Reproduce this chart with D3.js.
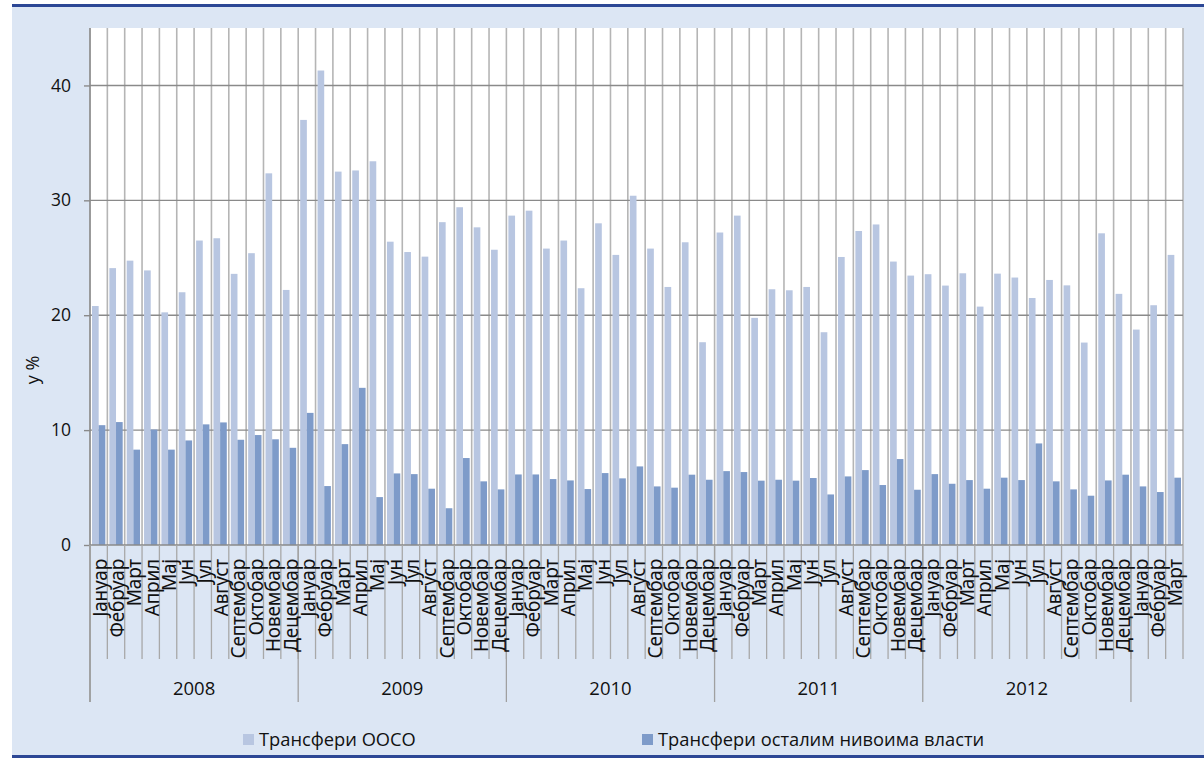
<!DOCTYPE html>
<html><head><meta charset="utf-8">
<script src="https://cdn.jsdelivr.net/npm/d3@7"></script>
<style>
html,body{margin:0;padding:0;background:#fff;}
svg{display:block;}
text{font-family:"Open Sans","Noto Sans",sans-serif;fill:#111;}
</style></head>
<body>
<svg id="chart" width="1204" height="758"></svg>
<script>
const monthNames = ["Јануар","Фебруар","Март","Април","Мај","Јун","Јул","Август","Септембар","Октобар","Новембар","Децембар"];
const years = ["2008","2009","2010","2011","2012",""];
const monthsPerYear = [12,12,12,12,12,3];
const seriesNames = ["Трансфери ООСО","Трансфери осталим нивоима власти"];
const yTicks = [0,10,20,30,40];
const yLabel = "у %";

const transferiOOSO = [
  20.8,24.1,24.75,23.9,20.25,22.0,26.5,26.7,23.6,25.4,32.35,22.2,
  37.0,41.3,32.5,32.6,33.4,26.4,25.5,25.1,28.1,29.4,27.65,25.7,
  28.67,29.1,25.8,26.5,22.35,28.0,25.25,30.4,25.8,22.46,26.35,17.65,
  27.2,28.67,19.77,22.26,22.17,22.46,18.52,25.07,27.33,27.9,24.67,23.45,
  23.57,22.58,23.65,20.75,23.62,23.28,21.5,23.07,22.6,17.62,27.13,21.86,
  18.75,20.87,25.25
];
const transferiOstalim = [
  10.43,10.7,8.3,10.05,8.3,9.1,10.5,10.67,9.16,9.57,9.2,8.46,
  11.5,5.13,8.78,13.68,4.17,6.23,6.17,4.9,3.2,7.57,5.54,4.84,
  6.14,6.14,5.74,5.62,4.87,6.26,5.8,6.84,5.1,4.99,6.12,5.68,
  6.43,6.35,5.6,5.68,5.6,5.83,4.4,5.97,6.52,5.22,7.48,4.81,
  6.17,5.33,5.65,4.9,5.86,5.65,8.84,5.54,4.84,4.29,5.62,6.12,
  5.1,4.61,5.86
];

// build category table
const cats = [];
years.forEach((yr, yi) => {
  for (let m = 0; m < monthsPerYear[yi]; m++) cats.push({key: cats.length, month: monthNames[m], year: yr, yi});
});
const data = cats.map((c,i) => ({...c, vals: [transferiOOSO[i], transferiOstalim[i]]}));

const colors = ["#b8c6e1", "#7e9bc9"];
const W = 1204, H = 758;
const L = 90, R = 1183, T = 28, B = 545;

const svg = d3.select("#chart");
// background
svg.append("rect").attr("x",12).attr("y",4).attr("width",W-12).attr("height",H-4).attr("fill","#dce6f4");
svg.append("rect").attr("x",12).attr("y",4).attr("width",W-12).attr("height",3).attr("fill","#2c4795");
svg.append("rect").attr("x",12).attr("y",755).attr("width",W-12).attr("height",3).attr("fill","#2c4795");
svg.append("rect").attr("x",L).attr("y",T).attr("width",R-L).attr("height",B-T).attr("fill","#fff");

const x = d3.scaleBand().domain(data.map(d=>d.key)).range([L,R]).paddingInner(0).paddingOuter(0);
const x1 = d3.scaleBand().domain([0,1]).range([0,x.bandwidth()]).paddingInner(0).paddingOuter(0.3);
const y = d3.scaleLinear().domain([0,45]).range([B,T]);

// vertical gridlines at category boundaries
const bounds = d3.range(data.length+1).map(i => L + i*x.step());
svg.append("g").selectAll("line").data(bounds).join("line")
  .attr("x1",d=>d).attr("x2",d=>d).attr("y1",T).attr("y2",B)
  .attr("stroke","#b5b5b5").attr("stroke-width",1.6);

// horizontal gridlines
svg.append("g").selectAll("line").data(yTicks.filter(t=>t>0)).join("line")
  .attr("x1",L).attr("x2",R).attr("y1",d=>y(d)).attr("y2",d=>y(d))
  .attr("stroke","#8a8a8a").attr("stroke-width",1.4);

// bars
const g = svg.append("g");
g.selectAll("g").data(data).join("g")
  .attr("transform", d => `translate(${x(d.key)},0)`)
  .selectAll("rect").data(d => d.vals.map((v,si)=>({v,si}))).join("rect")
  .attr("x", d => x1(d.si)).attr("width", x1.bandwidth())
  .attr("y", d => y(d.v)).attr("height", d => y(0)-y(d.v))
  .attr("fill", d => colors[d.si]);

// y axis
const yAxis = d3.axisLeft(y).tickValues(yTicks).tickSize(6).tickPadding(13).tickFormat(d3.format("d"));
const ya = svg.append("g").attr("transform",`translate(${L},0)`).call(yAxis);
ya.select(".domain").remove();
ya.selectAll(".tick line").attr("stroke","#8a8a8a").attr("stroke-width",1.4);
ya.selectAll(".tick text").attr("font-size",17.5).attr("font-family",'"Open Sans","Noto Sans",sans-serif').attr("fill","#111");

// left axis line (extends to year separator depth)
svg.append("line").attr("x1",L).attr("x2",L).attr("y1",T).attr("y2",702).attr("stroke","#8a8a8a").attr("stroke-width",1.4);
// x axis baseline
svg.append("line").attr("x1",L).attr("x2",R).attr("y1",B).attr("y2",B).attr("stroke","#8a8a8a").attr("stroke-width",1.4);

// month tick lines
svg.append("g").selectAll("line").data(bounds).join("line")
  .attr("x1",d=>d).attr("x2",d=>d).attr("y1",B).attr("y2",659)
  .attr("stroke","#a8a8a8").attr("stroke-width",1.3);
// year separators
const yearStarts = [];
let acc = 0;
monthsPerYear.forEach(n => { yearStarts.push(acc); acc += n; });
svg.append("g").selectAll("line").data(yearStarts).join("line")
  .attr("x1",d=>L+d*x.step()).attr("x2",d=>L+d*x.step()).attr("y1",B).attr("y2",702)
  .attr("stroke","#a0a0a0").attr("stroke-width",1.3);

// month labels
svg.append("g").selectAll("text").data(data).join("text")
  .attr("transform", d => `translate(${x(d.key)+x.bandwidth()/2+1},559) rotate(-90)`)
  .attr("text-anchor","end").attr("dominant-baseline","central")
  .attr("font-size",19).style("font-family",'"Noto Sans","Open Sans",sans-serif')
  .attr("letter-spacing","-0.2")
  .text(d => d.month);

// year labels
svg.append("g").selectAll("text").data(years.map((yr,i)=>({yr,i})).filter(d=>d.yr)).join("text")
  .attr("x", d => L + (yearStarts[d.i] + monthsPerYear[d.i]/2)*x.step())
  .attr("y", 695).attr("text-anchor","middle").attr("font-size",18.5)
  .text(d => d.yr);

// y label
svg.append("text").attr("transform","translate(39,370) rotate(-90)").attr("text-anchor","middle")
  .attr("font-size",18).text(yLabel);

// legend
const legendPos = [243, 642];
const lg = svg.append("g").selectAll("g").data(seriesNames).join("g")
  .attr("transform",(d,i)=>`translate(${legendPos[i]},734)`);
lg.append("rect").attr("x",0).attr("y",0).attr("width",11).attr("height",11).attr("fill",(d,i)=>colors[i]);
lg.append("text").attr("x",16).attr("y",12).attr("font-size",18.3).text(d=>d);
</script>
</body></html>
